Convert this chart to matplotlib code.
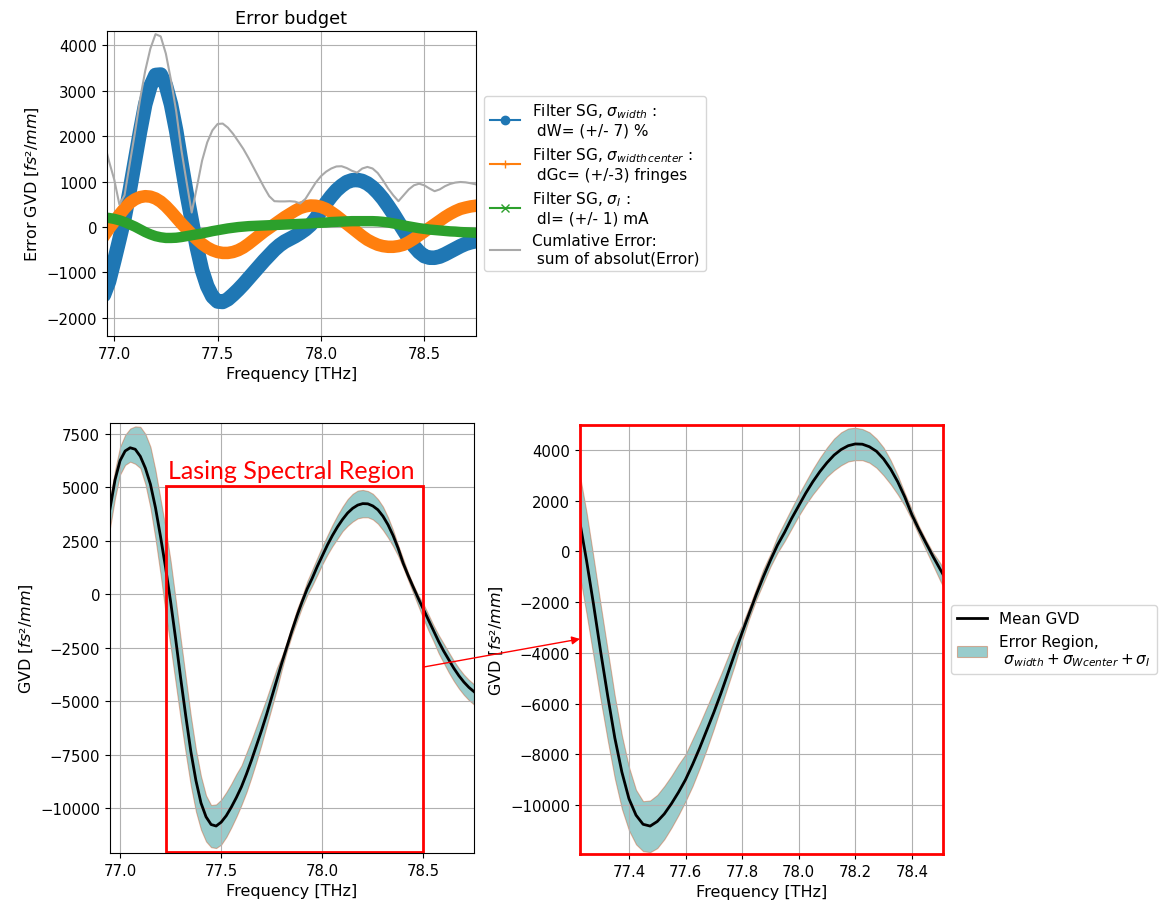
import numpy as np
import matplotlib
matplotlib.use("Agg")
from matplotlib import pyplot as plt
from matplotlib.lines import Line2D
from matplotlib.patches import Rectangle, ConnectionPatch

plt.rcParams['xtick.labelsize'] = 10.7
plt.rcParams['ytick.labelsize'] = 10.7
plt.rcParams['axes.labelsize'] = 11.5
plt.rcParams['axes.titlesize'] = 12.7
plt.rcParams['legend.fontsize'] = 11

# frequency grid [THz], step 0.025
freq = np.round(np.arange(76.95, 78.7501, 0.025), 3)

# error contributions [fs^2/mm]
err_width = [-1500, -1200, -750, -280, 200, 800, 1450, 2100, 2700, 3100,
             3350, 3360, 3120, 2700, 2120, 1420, 750, 150, -450, -950,
             -1300, -1530, -1640, -1650, -1590, -1490, -1380, -1260, -1130, -1000,
             -870, -740, -620, -500, -400, -320, -260, -200, -130, -50,
             50, 190, 360, 530, 680, 810, 910, 990, 1030, 1040,
             1015, 960, 875, 760, 625, 465, 295, 110, -70, -250,
             -420, -550, -640, -675, -676, -650, -600, -540, -480, -420,
             -370, -335, -310]
err_center = [-200, -30, 120, 270, 410, 530, 610, 660, 680, 670,
              630, 560, 460, 340, 210, 80, -40, -160, -270, -370,
              -450, -510, -550, -570, -570, -550, -510, -450, -370, -280,
              -190, -100, -20, 60, 140, 220, 290, 360, 420, 455,
              475, 470, 445, 400, 330, 250, 160, 70, -20, -110,
              -200, -280, -340, -390, -420, -435, -435, -420, -390, -330,
              -260, -180, -100, -20, 60, 140, 220, 290, 350, 400,
              430, 455, 470]
err_current = [210, 200, 180, 150, 110, 60, 10, -50, -110, -160,
               -200, -225, -240, -240, -235, -220, -200, -180, -160, -140,
               -115, -90, -70, -50, -30, -15, 0, 10, 20, 25,
               30, 35, 40, 45, 50, 55, 60, 65, 70, 75,
               80, 90, 95, 100, 110, 115, 120, 125, 130, 130,
               130, 130, 130, 125, 115, 100, 80, 60, 35, 15,
               -5, -25, -40, -55, -65, -75, -85, -95, -100, -110,
               -115, -120, -125]
err_cumul = [1900, 1450, 1050, 500, 700, 1390, 2070, 2810, 3440, 3930,
             4250, 4200, 3820, 3230, 2550, 1700, 1000, 320, 880, 1460,
             1865, 2130, 2270, 2280, 2190, 2055, 1890, 1720, 1520, 1305,
             1090, 875, 680, 570, 565, 565, 570, 560, 520, 620,
             800, 980, 1120, 1220, 1290, 1335, 1340, 1300, 1240, 1200,
             1290, 1325, 1290, 1190, 1030, 850, 700, 570, 700, 830,
             920, 955, 920, 850, 790, 830, 900, 950, 980, 993,
             985, 965, 940]

# GVD [fs^2/mm]
gvd_mean = [4000, 5350, 6250, 6700, 6850, 6780, 6450, 5900, 5150, 4050,
            2700, 1250, -350, -2100, -3950, -5700, -7350, -8700, -9750, -10400,
            -10760, -10830, -10650, -10350, -9950, -9500, -9000, -8400, -7750, -7050,
            -6350, -5600, -4800, -4000, -3200, -2450, -1700, -1000, -350, 250,
            750, 1300, 1800, 2300, 2750, 3150, 3500, 3800, 4020, 4170,
            4240, 4230, 4130, 3950, 3650, 3250, 2750, 2150, 1450, 870,
            330, -200, -700, -1200, -1700, -2200, -2650, -3050, -3450, -3800,
            -4100, -4350, -4550]
gvd_upper = [4450, 5800, 6900, 7450, 7750, 7850, 7830, 7500, 6900, 5800,
             4450, 3100, 1550, -250, -2100, -3900, -5700, -7250, -8500, -9400,
             -9850, -9820, -9600, -9250, -8850, -8400, -8000, -7400, -6800, -6150,
             -5500, -4850, -4150, -3450, -2900, -2200, -1450, -700, -100, 600,
             1150, 1700, 2250, 2750, 3250, 3700, 4100, 4450, 4700, 4850,
             4880, 4830, 4700, 4450, 4100, 3600, 3000, 2300, 1650, 1000,
             450, -50, -450, -950, -1450, -1900, -2300, -2700, -3100, -3450,
             -3750, -4000, -4200]
gvd_lower = [3100, 4500, 5600, 6050, 6200, 6100, 5900, 5150, 4050, 2600,
             950, -850, -2450, -4150, -5850, -7450, -8950, -10150, -11000, -11550,
             -11820, -11860, -11700, -11350, -10900, -10400, -9850, -9250, -8550, -7800,
             -7000, -6150, -5300, -4450, -3500, -2650, -1900, -1250, -600, -50,
             400, 900, 1400, 1850, 2250, 2600, 2950, 3200, 3400, 3550,
             3600, 3600, 3500, 3300, 3000, 2650, 2250, 1800, 1250, 650,
             50, -550, -1150, -1700, -2200, -2750, -3200, -3650, -4050, -4400,
             -4700, -4950, -5150]

lasing_lo, lasing_hi = 77.227, 78.5

labels = ['Filter SG, $\\sigma_{width}$ :\n dW= (+/- 7) %',
          'Filter SG, $\\sigma_{width\\,center}$ :\n dGc= (+/-3) fringes',
          'Filter SG, $\\sigma_I$ :\n dI= (+/- 1) mA',
          'Cumlative Error:\n sum of absolut(Error)']

fig = plt.figure(figsize=(11.6, 9.03), dpi=100)

# --- error budget ---
ax1 = fig.add_axes([0.0922, 0.6268, 0.3181, 0.3378])
ax1.plot(freq, err_width, color='C0', lw=10.5, solid_capstyle='round')
ax1.plot(freq, err_center, color='C1', lw=9)
ax1.plot(freq, err_current, color='C2', lw=7.5)
ax1.plot(freq, err_cumul, color='darkgray', lw=1.5)
ax1.set_xlim(76.965, 78.75)
ax1.set_ylim(-2400, 4320)
ax1.set_xticks([77.0, 77.5, 78.0, 78.5])
ax1.set_yticks(range(-2000, 4001, 1000))
ax1.grid(True)
ax1.set_title('Error budget')
ax1.set_xlabel('Frequency [THz]')
ax1.set_ylabel('Error GVD [$fs²/mm$]')
handles = [Line2D([], [], color='C0', marker='o', lw=1.5),
           Line2D([], [], color='C1', marker='+', lw=1.5),
           Line2D([], [], color='C2', marker='x', lw=1.5),
           Line2D([], [], color='darkgray', lw=1.5)]
ax1.legend(handles, labels, loc='center left', bbox_to_anchor=(1.0, 0.5))

# --- GVD with error region ---
def gvd_plot(ax, with_legend=False):
    ax.fill_between(freq, gvd_lower, gvd_upper, facecolor='teal',
                    edgecolor='#CC4F1B', alpha=0.4, lw=0.8,
                    label='Error Region,\n $\\sigma_{width} + \\sigma_{Wcenter} + \\sigma_I$')
    ax.plot(freq, gvd_mean, color='black', lw=2, label='Mean GVD')
    ax.grid(True)
    ax.set_xlabel('Frequency [THz]')
    ax.set_ylabel('GVD [$fs²/mm$]')
    if with_legend:
        h, l = ax.get_legend_handles_labels()
        ax.legend(h[::-1], l[::-1], loc='center left', bbox_to_anchor=(1.0, 0.5))

ax2 = fig.add_axes([0.0948, 0.0543, 0.3138, 0.4762])
gvd_plot(ax2)
ax2.set_xlim(76.95, 78.75)
ax2.set_ylim(-12090, 8010)
ax2.set_xticks([77.0, 77.5, 78.0, 78.5])
ax2.set_yticks(range(-10000, 7501, 2500))
ax2.add_patch(Rectangle((lasing_lo, -12030), lasing_hi - lasing_lo, 17080,
                        fill=False, edgecolor='red', lw=2, zorder=5))
ax2.text(77.235, 5250, 'Lasing Spectral Region', color='red', fontsize=18,
         family='Lato', va='bottom', ha='left')

ax3 = fig.add_axes([0.5, 0.0532, 0.3129, 0.4754])
gvd_plot(ax3, with_legend=True)
ax3.set_xlim(lasing_lo, 78.51)
ax3.set_ylim(-11930, 5000)
for s in ax3.spines.values():
    s.set_edgecolor('red')
    s.set_linewidth(2)

con = ConnectionPatch(xyA=(lasing_hi, -3400), coordsA=ax2.transData,
                      xyB=(lasing_lo, -3450), coordsB=ax3.transData,
                      arrowstyle='-|>', color='red', lw=1, mutation_scale=12)
fig.add_artist(con)

fig.savefig('out.png', dpi=100)
